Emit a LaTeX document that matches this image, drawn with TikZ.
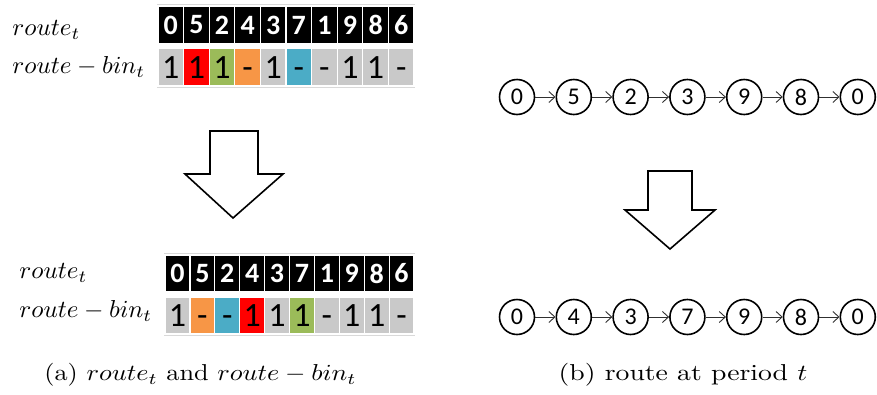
\documentclass[tikz,border=0pt]{standalone}
\usepackage{fontspec}
\newfontfamily\carl{Carlito}
\usetikzlibrary{arrows.meta}
\definecolor{cgrey}{HTML}{C9C9C9}
\definecolor{cred}{HTML}{FF0000}
\definecolor{cgreen}{HTML}{9BBB59}
\definecolor{corange}{HTML}{F79646}
\definecolor{cblue}{HTML}{4BACC6}
\definecolor{clink}{HTML}{303030}
\begin{document}
\begin{tikzpicture}[x=1pt,y=-1pt,
  topcell/.style={fill=black,draw=white,line width=1.2pt,inner sep=0pt,
    text=white,font=\carl\bfseries\fontsize{28}{28}\selectfont},
  bincell/.style={draw=white,line width=1.2pt,inner sep=0pt,
    text height=22pt,text depth=0pt,
    text=black,font=\carl\fontsize{34}{34}\selectfont},
  lbl/.style={anchor=west,inner sep=0pt,xscale=2.5,yscale=2.45,transform shape,font=\normalsize},
  captext/.style={inner sep=0pt,yscale=2.3,transform shape,font=\normalsize},
  stop/.style={circle,draw,line width=1.6pt,minimum size=35pt,inner sep=0pt,
    font=\carl\fontsize{24}{24}\selectfont},
  link/.style={draw=clink,line width=0.9pt,-{Straight Barb[length=6pt,width=11pt]}},
  bigarrow/.style={draw,line width=1.6pt,fill=white,line join=miter}
]
\useasboundingbox (0,0) rectangle (877,394);

% ---------- top table ----------
\node[lbl] (la) at (12,30) {$route_t$};
\node[lbl] (lb) at (12,67) {$route-bin_t$};
\draw[cgrey!70,line width=0.5pt] (157,4.5) -- (415,4.5);
\draw[cgrey!70,line width=0.5pt] (157,87.5) -- (415,87.5);
\foreach \d [count=\i from 0] in {0,5,2,4,3,7,1,9,8,6}
  \node[topcell,minimum width=25.6pt,minimum height=38pt] (ta\i) at ({158+12.8+\i*25.6},25) {\d};
\foreach \v/\c [count=\i from 0] in {1/cgrey,1/cred,1/cgreen,-/corange,1/cgrey,-/cblue,-/cgrey,1/cgrey,1/cgrey,-/cgrey}
  \node[bincell,fill=\c,minimum width=25.6pt,minimum height=38pt] (tb\i) at ({158+12.8+\i*25.6},67) {\v};

% ---------- left block arrow ----------
\draw[bigarrow] (210,131) -- (258,131) -- (258,174) -- (283,174) -- (233,218)
  -- (185,174) -- (210,174) -- cycle;

% ---------- bottom table ----------
\node[lbl] (lc) at (19,273) {$route_t$};
\node[lbl] (ld) at (19,311) {$route-bin_t$};
\draw[cgrey!70,line width=0.5pt] (164,253) -- (415,253);
\draw[cgrey!70,line width=0.5pt] (164,335.5) -- (415,335.5);
\foreach \d [count=\i from 0] in {0,5,2,4,3,7,1,9,8,6}
  \node[topcell,minimum width=24.9pt,minimum height=37pt] (ba\i) at ({165+12.45+\i*24.9},273.5) {\d};
\foreach \v/\c [count=\i from 0] in {1/cgrey,-/corange,-/cblue,1/cred,1/cgrey,1/cgreen,-/cgrey,1/cgrey,1/cgrey,-/cgrey}
  \node[bincell,fill=\c,minimum width=24.9pt,minimum height=37pt] (bb\i) at ({165+12.45+\i*24.9},315.5) {\v};

\node[captext,xscale=2.62] (capa) at (200.5,375) {(a) $route_t$ and $route-bin_t$};

% ---------- right: routes ----------
\foreach \d [count=\i from 0] in {0,5,2,3,9,8,0}
  \node[stop] (r\i) at ({517+\i*56.8},97) {\d};
\foreach \i [evaluate=\i as \j using int(\i+1)] in {0,...,5}
  \draw[link] (r\i) -- (r\j);

\draw[bigarrow] (648,171) -- (692,171) -- (692,210) -- (715,210) -- (670,249)
  -- (625,210) -- (648,210) -- cycle;

\foreach \d [count=\i from 0] in {0,4,3,7,9,8,0}
  \node[stop] (s\i) at ({517+\i*56.8},317) {\d};
\foreach \i [evaluate=\i as \j using int(\i+1)] in {0,...,5}
  \draw[link] (s\i) -- (s\j);

\node[captext,xscale=2.77] (capb) at (683,375) {(b) route at period $t$};
\end{tikzpicture}
\end{document}
